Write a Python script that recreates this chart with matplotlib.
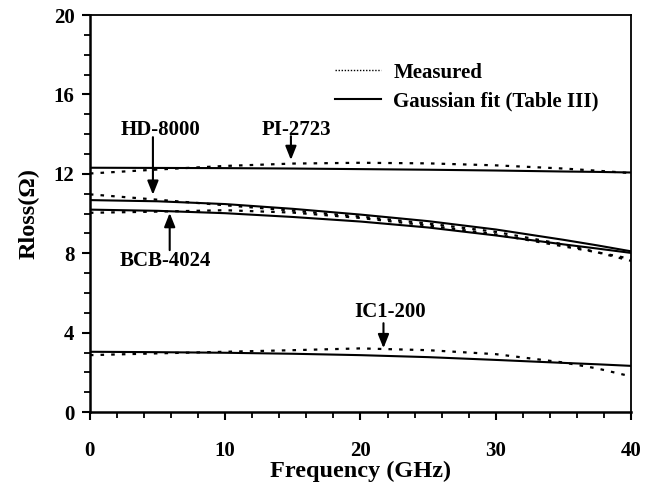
import matplotlib
matplotlib.use("Agg")
import matplotlib.pyplot as plt
from matplotlib.lines import Line2D
from matplotlib.ticker import MultipleLocator

plt.rcParams["font.family"] = ["Liberation Serif", "DejaVu Serif"]
plt.rcParams["font.weight"] = "bold"

# frequency points (GHz)
freq = [0, 5, 10, 15, 20, 25, 30, 35, 37.5, 40]

# Rloss (ohm), measured vs gaussian fit
pi_meas = [12.02, 12.22, 12.40, 12.52, 12.56, 12.53, 12.43, 12.27, 12.16, 12.04]
pi_fit = [12.31, 12.30, 12.29, 12.27, 12.24, 12.21, 12.17, 12.12, 12.10, 12.07]
hd_meas = [10.97, 10.70, 10.42, 10.15, 9.85, 9.50, 9.08, 8.45, 8.05, 7.62]
hd_fit = [10.68, 10.62, 10.48, 10.24, 9.95, 9.62, 9.20, 8.68, 8.40, 8.10]
bcb_meas = [10.04, 10.10, 10.17, 10.05, 9.78, 9.40, 8.95, 8.35, 8.05, 7.72]
bcb_fit = [10.20, 10.14, 10.02, 9.83, 9.60, 9.30, 8.90, 8.45, 8.24, 8.02]
ic1_meas = [2.87, 2.96, 3.04, 3.12, 3.21, 3.12, 2.92, 2.50, 2.20, 1.80]
ic1_fit = [3.04, 3.02, 2.99, 2.94, 2.87, 2.77, 2.63, 2.48, 2.41, 2.33]

# label text, text position, arrow tail, arrow tip
labels = [
    ("HD-8000", (5.2, 14.2), (4.66, 13.85), (4.66, 10.95)),
    ("PI-2723", (15.3, 14.2), (14.86, 13.9), (14.86, 12.7)),
    ("BCB-4024", (5.6, 7.6), (5.9, 8.16), (5.9, 10.03)),
    ("IC1-200", (22.2, 5.04), (21.7, 4.48), (21.7, 3.22)),
]

fig = plt.figure(figsize=(6.56, 4.86), dpi=100)
ax = fig.add_axes([0.137, 0.152, 0.825, 0.817])

dash = (0, (1.6, 3.2))
for meas, fit in [(pi_meas, pi_fit), (hd_meas, hd_fit),
                  (bcb_meas, bcb_fit), (ic1_meas, ic1_fit)]:
    ax.plot(freq, meas, color="black", lw=1.6, linestyle=dash)
    ax.plot(freq, fit, color="black", lw=1.5)

for txt, tpos, tail, tip in labels:
    ax.text(tpos[0], tpos[1], txt, ha="center", va="center",
            fontsize=15, fontweight="bold")
    ax.annotate("", xy=tip, xytext=tail,
                arrowprops=dict(arrowstyle="-|>,head_length=0.55,head_width=0.22",
                                color="black", lw=1.5, mutation_scale=15,
                                shrinkA=0, shrinkB=0))

handles = [Line2D([], [], color="black", lw=1.0, linestyle=(0, (1, 1.2))),
           Line2D([], [], color="black", lw=1.5)]
ax.legend(handles, ["Measured", "Gaussian fit (Table III)"],
          loc="upper left", bbox_to_anchor=(0.453, 0.88), frameon=False,
          borderpad=0, borderaxespad=0, handlelength=2.2, handletextpad=0.6,
          labelspacing=0.4, prop={"size": 15, "weight": "bold"})

ax.set_xlim(0, 40)
ax.set_ylim(0, 20)
ax.xaxis.set_major_locator(MultipleLocator(10))
ax.xaxis.set_minor_locator(MultipleLocator(2))
ax.yaxis.set_major_locator(MultipleLocator(4))
ax.yaxis.set_minor_locator(MultipleLocator(1))
ax.tick_params(which="major", length=6, width=1.5, labelsize=15, pad=14.5)
ax.tick_params(which="minor", length=4, width=1.3)
ax.tick_params(axis="y", which="major", pad=5)
for lab in ax.get_xticklabels() + ax.get_yticklabels():
    lab.set_fontweight("bold")
for side in ["left", "bottom"]:
    ax.spines[side].set_linewidth(1.8)
for side in ["top", "right"]:
    ax.spines[side].set_linewidth(1.3)

ax.set_xlabel("Frequency (GHz)", fontsize=17.5, fontweight="bold", labelpad=0)
ax.set_ylabel("Rloss(Ω)", fontsize=17.5, fontweight="bold", labelpad=10)

fig.savefig("out.png", dpi=100)
